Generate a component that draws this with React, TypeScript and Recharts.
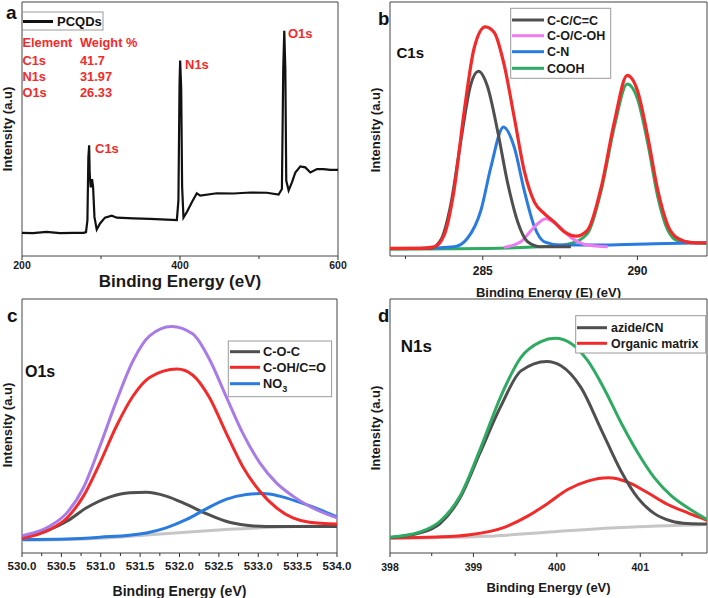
import React from "react";
import { LineChart, Line, XAxis, YAxis, ReferenceArea } from "recharts";

const FONT = '"Liberation Sans", Arial, Helvetica, sans-serif';

// ---- (a) survey spectrum: [binding energy, intensity] ----
const survey: [number, number][] = [
  [200, 9.1], [214, 9.0], [231, 9.5], [248, 9.0], [265, 9.1], [278, 9.1],
  [281, 9.4], [282.8, 14], [284, 38.8], [285, 43.6], [285.7, 32.3],
  [287, 27], [288.7, 30.3], [290, 27], [291.7, 15.4], [294.6, 10.4],
  [298.8, 12.8], [305, 15.1], [313.6, 15.9], [320, 15.1], [341, 14.8],
  [362, 14.6], [383, 14.3], [396, 14.1], [398, 21.9], [399.4, 67.4],
  [400.2, 77], [401.5, 66.1], [402.7, 27.1], [404.4, 15.1], [408.7, 17.3],
  [415, 21.2], [421.3, 24.7], [425.6, 23.8], [446.7, 24.7], [467.8, 24.6],
  [489, 25], [510, 24.9], [524.8, 24.2], [529, 26.4], [530.7, 74],
  [532, 88.7], [533.3, 74], [534.5, 29.7], [537.5, 25.8], [541.7, 29],
  [546, 32.9], [552.3, 35.3], [558.6, 34.9], [565, 32.9], [573.4, 34.2],
  [581.8, 34.2], [590.3, 33.9], [600, 33.9],
];
const surveyTicks = [200, 300, 400, 500, 600];
const surveyLabels = [200, 400, 600];
const composition = [
  ["C1s", "41.7"],
  ["N1s", "31.97"],
  ["O1s", "26.33"],
];

// ---- (b) C1s ----
const c1sEnvelope: [number, number][] = [
  [282.0, 3.0], [282.99, 3.0], [283.43, 3.6], [283.75, 8.2], [284.07, 25.8],
  [284.4, 57.0], [284.72, 81.8], [285.08, 90.2], [285.37, 88.0], [285.69, 75.3],
  [286.02, 54.4], [286.34, 33.6], [286.67, 21.2], [286.99, 16.7], [287.31, 13.4],
  [287.64, 9.5], [288.02, 7.8], [288.39, 10.2], [288.83, 27.1], [289.26, 53.1],
  [289.67, 71.1], [290.01, 64.8], [290.34, 46.6], [290.66, 25.8], [290.98, 12.1],
  [291.31, 6.9], [291.74, 5.3], [292.23, 5.2],
];
const c1sCC: [number, number][] = [
  [282.0, 3.0], [283.32, 3.1], [283.64, 6.3], [283.97, 20.6], [284.29, 45.3],
  [284.61, 67.4], [284.86, 72.7], [285.15, 66.8], [285.48, 49.2], [285.8, 29.0],
  [286.13, 13.4], [286.45, 5.6], [286.88, 3.6], [287.85, 3.6],
];
const c1sCO: [number, number][] = [
  [285.69, 3.4], [286.23, 5.6], [286.67, 11.5], [287.04, 14.7], [287.42, 12.1],
  [287.85, 7.3], [288.39, 4.3], [289.04, 3.6],
];
const c1sCN: [number, number][] = [
  [283.0, 3.0], [284.07, 3.6], [284.5, 6.9], [284.94, 18.0], [285.26, 34.9],
  [285.67, 50.8], [286.02, 42.7], [286.34, 25.8], [286.67, 11.5], [286.99, 5.6],
  [287.53, 4.3], [288.93, 4.3], [290.55, 4.8], [292.23, 5.2],
];
const c1sCOOH: [number, number][] = [
  [282.0, 2.7], [285.15, 3.0], [287.31, 3.9], [287.85, 4.9], [288.39, 8.9],
  [288.83, 25.8], [289.26, 51.2], [289.67, 67.7], [290.01, 61.6], [290.34, 44.0],
  [290.66, 23.2], [290.98, 10.2], [291.31, 6.0], [292.23, 4.9],
];
const c1sTicks = [282.5, 285, 287.5, 290];
const c1sLabels = [285, 290];

// ---- (c) O1s ----
const o1sEnvelope: [number, number][] = [
  [530.0, 6.8], [530.35, 10.5], [530.57, 15.8], [530.78, 25.7], [530.99, 42.1],
  [531.2, 59.9], [531.41, 75.7], [531.62, 85.5], [531.9, 89.2], [532.17, 86.2],
  [532.38, 76.3], [532.59, 61.8], [532.8, 47.4], [533.02, 35.5], [533.23, 27.6],
  [533.44, 22.4], [533.65, 18.4], [534.0, 13.8],
];
const o1sCOC: [number, number][] = [
  [530.0, 6.1], [530.35, 9.2], [530.57, 12.5], [530.82, 17.8], [531.12, 22.1],
  [531.37, 23.7], [531.58, 23.9], [531.83, 22.4], [532.09, 19.1], [532.34, 15.5],
  [532.59, 12.5], [532.85, 10.9], [533.1, 10.4], [534.0, 10.4],
];
const o1sCOH: [number, number][] = [
  [530.0, 5.8], [530.35, 9.2], [530.57, 13.8], [530.78, 22.4], [530.99, 35.5],
  [531.2, 50.0], [531.41, 61.8], [531.62, 69.1], [531.97, 72.4], [532.17, 70.0],
  [532.38, 61.2], [532.59, 47.4], [532.8, 34.2], [533.02, 24.3], [533.23, 17.8],
  [533.44, 13.8], [533.65, 12.1], [534.0, 11.4],
];
const o1sNO3: [number, number][] = [
  [530.0, 5.3], [530.57, 5.5], [530.99, 6.2], [531.58, 7.9], [531.83, 9.9],
  [532.09, 13.2], [532.34, 17.4], [532.59, 21.1], [532.85, 23.0], [533.06, 23.4],
  [533.27, 22.4], [533.52, 20.0], [533.78, 17.1], [534.0, 14.2],
];
const o1sBackground: [number, number][] = [
  [530.0, 5.0], [530.99, 5.8], [531.58, 7.1], [532.26, 8.6], [533.1, 10.0], [534.0, 10.8],
];
const o1sTicks = [
  530, 530.25, 530.5, 530.75, 531, 531.25, 531.5, 531.75, 532, 532.25, 532.5,
  532.75, 533, 533.25, 533.5, 533.75, 534,
];
const o1sLabels = [530, 530.5, 531, 531.5, 532, 532.5, 533, 533.5, 534];

// ---- (d) N1s ----
const n1sEnvelope: [number, number][] = [
  [398.0, 6.2], [398.36, 8.3], [398.6, 12.5], [398.84, 22.4], [399.08, 40.8],
  [399.33, 61.8], [399.57, 77.0], [399.81, 83.2], [399.98, 84.5], [400.17, 82.5],
  [400.37, 75.7], [400.57, 64.5], [400.77, 51.3], [400.97, 39.5], [401.17, 29.6],
  [401.37, 22.6], [401.57, 17.8], [401.8, 13.2],
];
const n1sAzide: [number, number][] = [
  [398.0, 6.1], [398.36, 7.9], [398.6, 11.6], [398.84, 21.7], [399.08, 39.5],
  [399.33, 57.9], [399.57, 71.7], [399.88, 75.4], [400.05, 73.7], [400.29, 65.1],
  [400.53, 48.7], [400.77, 32.2], [400.97, 21.7], [401.17, 15.5], [401.37, 12.6],
  [401.57, 11.6], [401.8, 11.4],
];
const n1sOrganic: [number, number][] = [
  [398.0, 5.9], [398.56, 6.3], [398.96, 7.2], [399.37, 10.1], [399.65, 14.5],
  [399.89, 19.5], [400.13, 25.0], [400.37, 28.3], [400.62, 29.6], [400.85, 27.9],
  [401.09, 23.7], [401.33, 19.1], [401.57, 15.8], [401.8, 12.9],
];
const n1sBackground: [number, number][] = [
  [398.0, 5.8], [399.16, 6.6], [399.97, 8.4], [400.77, 10.0], [401.8, 11.2],
];
const n1sTicks = [398, 398.5, 399, 399.5, 400, 400.5, 401, 401.5];
const n1sLabels = [398, 399, 400, 401];

const toPts = (arr: [number, number][]) => arr.map(([e, i]) => ({ e, i }));

const GRAY = "#4f4f4f";
const RED = "#f32a2a";
const BLUE = "#2a7be0";
const MAGENTA = "#ee7cf0";
const GREEN = "#2faa62";
const PURPLE = "#a97be6";
const LIGHT = "#c6c6c6";

function makeTick(labels: number[], fmt: (v: number) => string, fontSize: number, margin: number) {
  return (props: any) => {
    const { x, y, payload } = props;
    const v = payload.value as number;
    const major = labels.some((m) => Math.abs(m - v) < 1e-6);
    const ay = y - margin;
    return (
      <g>
        <line x1={x} x2={x} y1={ay} y2={ay + (major ? 4 : 3)} stroke="#333" strokeWidth={1} />
        {major && (
          <text x={x} y={y} dy="0.71em" textAnchor="middle" fontSize={fontSize} fontWeight="bold" fill="#1a1a1a" fontFamily={FONT}>
            {fmt(v)}
          </text>
        )}
      </g>
    );
  };
}

type Series = { data: [number, number][]; color: string; width?: number; linear?: boolean };

function Panel(props: {
  left: number;
  top: number;
  width: number;
  height: number;
  margin: { top: number; right: number; bottom: number; left: number };
  axisHeight: number;
  domain: [number, number];
  ticks: number[];
  labels: number[];
  fmt: (v: number) => string;
  tickFont: number;
  tickMargin: number;
  title: string;
  titleFont: number;
  titleOffset: number;
  series: Series[];
  white?: boolean;
}) {
  const p = props;
  return (
    <div
      style={{
        position: "absolute",
        left: p.left,
        top: p.top,
        width: p.width,
        height: p.height,
        background: p.white ? "#fff" : "transparent",
      }}
    >
      <LineChart width={p.width} height={p.height} margin={p.margin}>
        <XAxis
          dataKey="e"
          type="number"
          domain={p.domain}
          allowDataOverflow
          ticks={p.ticks}
          interval={0}
          axisLine={false}
          tickLine={false}
          tickSize={0}
          tickMargin={p.tickMargin}
          height={p.axisHeight}
          tick={makeTick(p.labels, p.fmt, p.tickFont, p.tickMargin)}
          label={{
            value: p.title,
            position: "insideBottom",
            offset: p.titleOffset,
            style: { fontSize: p.titleFont, fontWeight: "bold", fill: "#1a1a1a", fontFamily: FONT },
          }}
        />
        <YAxis hide type="number" domain={[0, 100]} allowDataOverflow />
        <ReferenceArea
          x1={p.domain[0]}
          x2={p.domain[1]}
          y1={0}
          y2={100}
          stroke="#444"
          strokeWidth={1}
          fill="#fff"
          fillOpacity={0}
        />
        {p.series.map((s, k) => (
          <Line
            key={k}
            data={toPts(s.data)}
            dataKey="i"
            type={s.linear ? "linear" : "monotone"}
            stroke={s.color}
            strokeWidth={s.width ?? 3}
            dot={false}
            activeDot={false}
            isAnimationActive={false}
          />
        ))}
      </LineChart>
    </div>
  );
}

const bold = { fontFamily: FONT, fontWeight: "bold" as const };

function LegendBox(props: { x: number; y: number; w: number; h: number; rows: { label: React.ReactNode; color: string; y: number }[]; x1: number; x2: number; tx: number; fs: number }) {
  const p = props;
  return (
    <g>
      <rect x={p.x} y={p.y} width={p.w} height={p.h} fill="#fff" stroke="#9a9a9a" strokeWidth={1} />
      {p.rows.map((r, k) => (
        <g key={k}>
          <line x1={p.x1} x2={p.x2} y1={r.y} y2={r.y} stroke={r.color} strokeWidth={3} />
          <text x={p.tx} y={r.y + p.fs * 0.36} fontSize={p.fs} fill="#1a1a1a" {...bold}>
            {r.label}
          </text>
        </g>
      ))}
    </g>
  );
}

function YTitle(props: { x: number; y: number }) {
  return (
    <text
      x={props.x}
      y={props.y}
      transform={`rotate(-90 ${props.x} ${props.y})`}
      textAnchor="middle"
      dominantBaseline="central"
      fontSize={13}
      fill="#1a1a1a"
      {...bold}
    >
      Intensity (a.u)
    </text>
  );
}

export default function App() {
  return (
    <div style={{ position: "relative", width: 708, height: 598, background: "#fff", overflow: "hidden" }}>
      <style>{"body{margin:0}"}</style>
      <Panel
        left={0}
        top={0}
        width={354}
        height={298}
        margin={{ top: 2, right: 16, bottom: 0, left: 22 }}
        axisHeight={42}
        domain={[200, 600]}
        ticks={surveyTicks}
        labels={surveyLabels}
        fmt={(v) => String(v)}
        tickFont={10.5}
        tickMargin={6}
        title="Binding Energy (eV)"
        titleFont={17}
        titleOffset={11}
        series={[{ data: survey, color: "#111", width: 2.2, linear: true }]}
      />
      <Panel
        left={354}
        top={0}
        width={354}
        height={300}
        margin={{ top: 2, right: 1, bottom: 0, left: 36 }}
        axisHeight={44}
        domain={[282, 292.25]}
        ticks={c1sTicks}
        labels={c1sLabels}
        fmt={(v) => String(v)}
        tickFont={12}
        tickMargin={10.5}
        title="Binding Energy (E) (eV)"
        titleFont={13}
        titleOffset={2.7}
        series={[
          { data: c1sCOOH, color: GREEN },
          { data: c1sCN, color: BLUE },
          { data: c1sCO, color: MAGENTA },
          { data: c1sCC, color: GRAY },
          { data: c1sEnvelope, color: RED, width: 3.2 },
        ]}
      />
      <Panel
        left={0}
        top={298}
        width={354}
        height={300}
        margin={{ top: 1, right: 17, bottom: 0, left: 22 }}
        axisHeight={45}
        domain={[530, 534]}
        ticks={o1sTicks}
        labels={o1sLabels}
        fmt={(v) => v.toFixed(1)}
        tickFont={11.5}
        tickMargin={8.7}
        title="Binding Energy (eV)"
        titleFont={14}
        titleOffset={2}
        white
        series={[
          { data: o1sBackground, color: LIGHT },
          { data: o1sCOC, color: GRAY },
          { data: o1sNO3, color: BLUE },
          { data: o1sCOH, color: RED },
          { data: o1sEnvelope, color: PURPLE },
        ]}
      />
      <Panel
        left={354}
        top={298}
        width={354}
        height={300}
        margin={{ top: 1, right: 1, bottom: 0, left: 36 }}
        axisHeight={45}
        domain={[398, 401.8]}
        ticks={n1sTicks}
        labels={n1sLabels}
        fmt={(v) => String(v)}
        tickFont={10.5}
        tickMargin={11}
        title="Binding Energy (eV)"
        titleFont={13}
        titleOffset={6}
        white
        series={[
          { data: n1sBackground, color: LIGHT },
          { data: n1sOrganic, color: RED },
          { data: n1sAzide, color: GRAY },
          { data: n1sEnvelope, color: GREEN },
        ]}
      />

      <svg width={708} height={598} style={{ position: "absolute", left: 0, top: 0, pointerEvents: "none" }}>
        {/* panel letters */}
        <text x={6} y={19} fontSize={19} fill="#111" {...bold}>a</text>
        <text x={378} y={25} fontSize={18.5} fill="#111" {...bold}>b</text>
        <text x={7} y={322} fontSize={19} fill="#111" {...bold}>c</text>
        <text x={378} y={322} fontSize={18.5} fill="#111" {...bold}>d</text>

        <YTitle x={7.5} y={129} />
        <YTitle x={375.7} y={130} />
        <YTitle x={7.5} y={425} />
        <YTitle x={375.7} y={428} />

        {/* (a) legend and annotations */}
        <rect x={22} y={12} width={81} height={18} fill="none" stroke="#9a9a9a" strokeWidth={1} />
        <line x1={23} x2={53} y1={21.5} y2={21.5} stroke="#111" strokeWidth={3} />
        <text x={57} y={26.3} fontSize={13} fill="#111" {...bold}>PCQDs</text>
        <text x={22.5} y={47.3} fontSize={12.8} fill={RED} {...bold}>Element</text>
        <text x={80} y={47.3} fontSize={12.8} fill={RED} {...bold}>Weight %</text>
        {composition.map(([el, w], k) => (
          <g key={el}>
            <text x={22.5} y={64.5 + k * 16.2} fontSize={12.8} fill={RED} {...bold}>{el}</text>
            <text x={80} y={64.5 + k * 16.2} fontSize={12.8} fill={RED} {...bold}>{w}</text>
          </g>
        ))}
        <text x={288} y={37.5} fontSize={13} fill={RED} {...bold}>O1s</text>
        <text x={185} y={69} fontSize={13} fill={RED} {...bold}>N1s</text>
        <text x={95} y={152.5} fontSize={13} fill={RED} {...bold}>C1s</text>

        {/* (b) */}
        <text x={396.5} y={58.3} fontSize={15} fill="#111" {...bold}>C1s</text>
        <LegendBox
          x={510.7}
          y={8.3}
          w={100}
          h={70}
          x1={512}
          x2={544}
          tx={547}
          fs={12.5}
          rows={[
            { label: "C-C/C=C", color: GRAY, y: 20 },
            { label: "C-O/C-OH", color: MAGENTA, y: 35.7 },
            { label: "C-N", color: BLUE, y: 51.7 },
            { label: "COOH", color: GREEN, y: 68.3 },
          ]}
        />

        {/* (c) */}
        <text x={25} y={377.3} fontSize={16} fill="#111" {...bold}>O1s</text>
        <LegendBox
          x={228.3}
          y={341}
          w={103.3}
          h={55.7}
          x1={230}
          x2={260}
          tx={263}
          fs={12.8}
          rows={[
            { label: "C-O-C", color: GRAY, y: 351.7 },
            { label: "C-OH/C=O", color: RED, y: 367.3 },
            {
              label: (
                <>
                  NO<tspan dy={4} fontSize={9}>3</tspan>
                </>
              ),
              color: BLUE,
              y: 383.7,
            },
          ]}
        />

        {/* (d) */}
        <text x={400.7} y={352} fontSize={17} fill="#111" {...bold}>N1s</text>
        <LegendBox
          x={575.7}
          y={315.7}
          w={130}
          h={37.3}
          x1={577}
          x2={607}
          tx={611}
          fs={12.4}
          rows={[
            { label: "azide/CN", color: GRAY, y: 327.7 },
            { label: "Organic matrix", color: RED, y: 343.3 },
          ]}
        />
      </svg>
    </div>
  );
}
